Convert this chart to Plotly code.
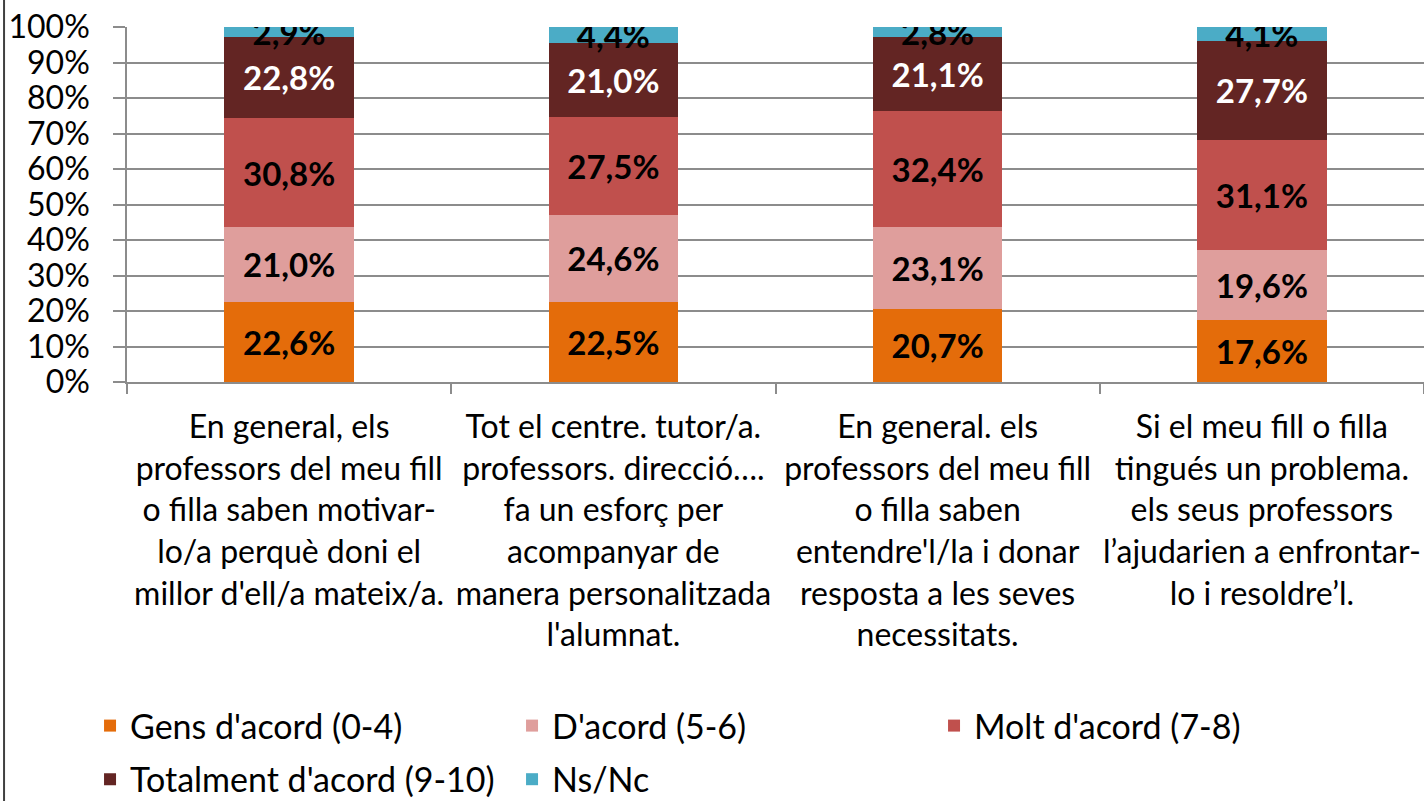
import plotly.graph_objects as go

categories = [
    "En general, els<br>professors del meu fill<br>o filla saben motivar-<br>lo/a perquè doni el<br>millor d'ell/a mateix/a.",
    "Tot el centre. tutor/a.<br>professors. direcció….<br>fa un esforç per<br>acompanyar de<br>manera personalitzada<br>l'alumnat.",
    "En general. els<br>professors del meu fill<br>o filla saben<br>entendre'l/la i donar<br>resposta a les seves<br>necessitats.",
    "Si el meu fill o filla<br>tingués un problema.<br>els seus professors<br>l’ajudarien a enfrontar-<br>lo i resoldre’l.",
]
cat_ids = ["c1", "c2", "c3", "c4"]

gens = [22.6, 22.5, 20.7, 17.6]
dacord = [21.0, 24.6, 23.1, 19.6]
molt = [30.8, 27.5, 32.4, 31.1]
totalment = [22.8, 21.0, 21.1, 27.7]
nsnc = [2.9, 4.4, 2.8, 4.1]

series = [
    ("Gens d'acord (0-4)", gens, "#E46C0A", "black", "legend"),
    ("D'acord (5-6)", dacord, "#DF9E9C", "black", "legend"),
    ("Molt d'acord (7-8)", molt, "#C0504D", "black", "legend"),
    ("Totalment d'acord (9-10)", totalment, "#632523", "white", "legend2"),
    ("Ns/Nc", nsnc, "#4BACC6", "black", "legend2"),
]

FONT = "Lato"
FS = 32
LFS = 34

fig = go.Figure()
for name, vals, color, tcolor, leg in series:
    fig.add_trace(go.Bar(
        x=cat_ids, y=[v / 100 for v in vals], name=name,
        marker=dict(color=color, line=dict(width=0)),
        text=[f"{v:.1f}%".replace(".", ",") for v in vals],
        textposition="inside", insidetextanchor="middle",
        textfont=dict(family=FONT, size=33, color=tcolor, weight="bold"),
        legend=leg, hoverinfo="skip",
    ))

fig.update_layout(
    barmode="stack", bargap=0.6,
    width=1424, height=801,
    margin=dict(l=127, r=0, t=27, b=419, autoexpand=False),
    paper_bgcolor="white", plot_bgcolor="white",
    font=dict(family=FONT, size=FS, color="black"),
    uniformtext=dict(minsize=33, mode="show"),
    legend=dict(orientation="h", x=-0.0285, xanchor="left", y=-0.969, yanchor="middle",
                entrywidth=377, entrywidthmode="pixels",
                font=dict(family=FONT, size=LFS, color="black"), traceorder="normal"),
    legend2=dict(orientation="h", x=-0.0285, xanchor="left", y=-1.12, yanchor="middle",
                 entrywidth=377, entrywidthmode="pixels",
                 font=dict(family=FONT, size=LFS, color="black"), traceorder="normal"),
    xaxis=dict(
        tickmode="array", tickvals=cat_ids, ticktext=categories, tickangle=0,
        tickson="boundaries", ticks="outside", ticklen=10, tickcolor="#8c8c8c", tickwidth=1.5,
        showline=True, linecolor="#8c8c8c", linewidth=1.5,
        tickfont=dict(family=FONT, size=FS, color="black"),
        ticklabelstandoff=16,
    ),
    yaxis=dict(
        range=[0, 1], tickvals=[i / 10 for i in range(11)], tickformat=".0%",
        ticks="outside", ticklen=12, tickcolor="#8c8c8c", tickwidth=1.5,
        showline=True, linecolor="#8c8c8c", linewidth=1.5,
        showgrid=True, gridcolor="#8c8c8c", gridwidth=1.5,
        tickfont=dict(family=FONT, size=FS, color="black"),
        ticklabelstandoff=17, zeroline=False,
    ),
    shapes=[dict(type="line", xref="paper", yref="paper",
                 x0=-0.0948, x1=-0.0948, y0=-1.2, y1=1.1,
                 line=dict(color="#404040", width=2))],
)

fig.write_html("out.html", config={"displayModeBar": False},
               post_script="document.body.style.margin='0';")
